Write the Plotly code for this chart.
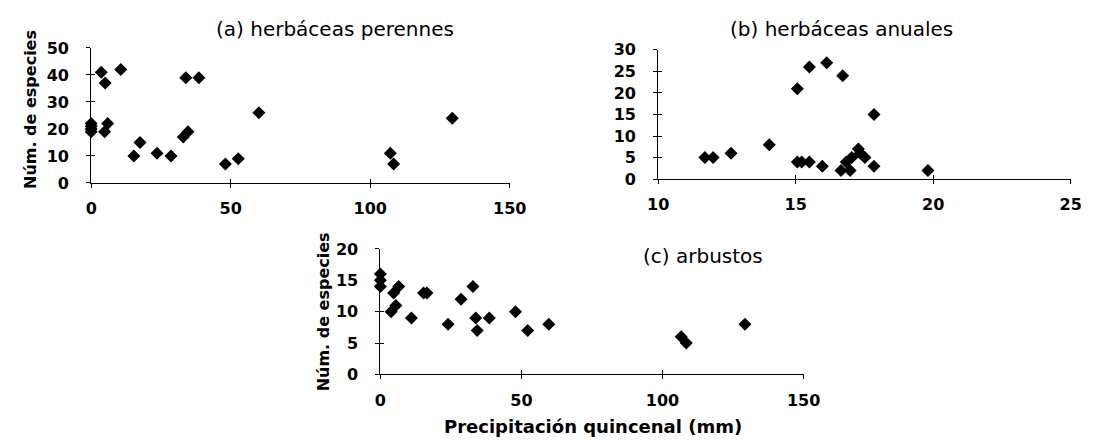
import plotly.graph_objects as go

# ---- data ----
a_x = [0, 0, 0, 0, 3.6, 5.0, 10.6, 4.8, 5.9, 15.3, 17.5, 23.6, 28.6, 33.0, 34.7, 33.9, 38.6, 48.1, 52.7, 60.1, 107.2, 108.4, 129.4]
a_y = [22, 21, 20, 19, 41, 37, 42, 19, 22, 10, 15, 11, 10, 17, 19, 39, 39, 7, 9, 26, 11, 7, 24]

b_x = [11.70, 12.0, 12.65, 14.04, 15.06, 15.5, 16.13, 16.71, 17.85, 15.06, 15.22, 15.5, 15.97, 16.65, 16.98, 16.84, 17.04, 17.28, 17.52, 17.85, 17.35, 19.81]
b_y = [5, 5, 6, 8, 21, 26, 27, 24, 15, 4, 4, 4, 3, 2, 2, 4, 5, 7, 5, 3, 6, 2]

c_x = [0, 0, 0, 3.8, 5.5, 4.7, 6.5, 11.0, 15.3, 16.5, 24.0, 28.6, 32.8, 33.8, 34.3, 38.6, 47.9, 52.2, 59.7, 106.6, 108.4, 129.2]
c_y = [16, 15, 14, 10, 11, 13, 14, 9, 13, 13, 8, 12, 14, 9, 7, 9, 10, 7, 8, 6, 5, 8]

titles = ["(a) herbáceas perennes", "(b) herbáceas anuales", "(c) arbustos"]
y_title = "Núm. de especies"
x_title = "Precipitación quincenal (mm)"

x_ranges = [[0, 150], [10, 25], [0, 150]]
y_ranges = [[0, 50], [0, 30], [0, 20]]
x_dticks = [50, 5, 50]
y_dticks = [10, 5, 5]

# ---- layout geometry (pixels) ----
W, H = 1102, 445
FONT = "DejaVu Sans"
# plot areas: (left, right, bottom, top) in pixels
boxes = [(82.3, 511.7, 181.7, 40.7),
         (664.0, 1087.3, 177.7, 42.7),
         (379.0, 813.3, 381.7, 250.7)]


def xd(l, r):
    return [l / W, r / W]


def yd(b, t):
    return [1 - b / H, 1 - t / H]


fig = go.Figure()
data = [(a_x, a_y), (b_x, b_y), (c_x, c_y)]
layout = {}
for i, ((xs, ys), (l, r, b, t)) in enumerate(zip(data, boxes)):
    n = i + 1
    sx = "" if n == 1 else str(n)
    fig.add_trace(go.Scatter(
        x=xs, y=ys, mode="markers",
        marker=dict(symbol="diamond", size=10, color="black"),
        xaxis="x" + sx, yaxis="y" + sx, cliponaxis=False, showlegend=False,
        hoverinfo="x+y"))
    common = dict(showgrid=False, zeroline=False, showline=True, linecolor="black",
                  linewidth=1, ticks="outside", ticklen=4, tickcolor="black", tickwidth=1,
                  tickfont=dict(family=FONT, size=16, color="black", weight="bold"),
                  fixedrange=True)
    layout["xaxis" + sx] = dict(common, domain=xd(l, r), range=x_ranges[i], dtick=x_dticks[i],
                                tick0=x_ranges[i][0], anchor="y" + sx, ticklabelstandoff=7)
    layout["yaxis" + sx] = dict(common, domain=yd(b, t), range=y_ranges[i], dtick=y_dticks[i],
                                tick0=0, anchor="x" + sx, ticklabelstandoff=14)
    # overlay axes for the inner half of the crossing tick marks
    ox, oy = str(n + 3), str(n + 3)
    fig.add_trace(go.Scatter(x=[], y=[], xaxis="x" + ox, yaxis="y" + oy,
                             showlegend=False, hoverinfo="skip"))
    inner = dict(showgrid=False, zeroline=False, showline=False, ticks="inside", ticklen=4,
                 tickcolor="black", tickwidth=1, showticklabels=False, fixedrange=True)
    layout["xaxis" + ox] = dict(inner, domain=xd(l, r), range=x_ranges[i], dtick=x_dticks[i],
                                tick0=x_ranges[i][0], anchor="y" + oy, overlaying="x" + sx)
    layout["yaxis" + oy] = dict(inner, domain=yd(b, t), range=y_ranges[i], dtick=y_dticks[i],
                                tick0=0, anchor="x" + ox, overlaying="y" + sx)

fig.update_layout(**layout)

ann = [
    dict(text=titles[0], x=332 / W, y=1 - 21 / H, xanchor="center", yanchor="middle",
         font=dict(family=FONT, size=20, color="black")),
    dict(text=titles[1], x=852.5 / W, y=1 - 21 / H, xanchor="center", yanchor="middle",
         font=dict(family=FONT, size=20, color="black")),
    dict(text=titles[2], x=646 / W, y=1 - 258 / H, xanchor="left", yanchor="middle",
         font=dict(family=FONT, size=20, color="black")),
    dict(text=y_title, x=20 / W, y=1 - 105 / H, xanchor="center", yanchor="middle",
         textangle=-90, font=dict(family=FONT, size=16, color="black", weight="bold")),
    dict(text=y_title, x=321 / W, y=1 - 316 / H, xanchor="center", yanchor="middle",
         textangle=-90, font=dict(family=FONT, size=16, color="black", weight="bold")),
    dict(text=x_title, x=597 / W, y=1 - 436 / H, xanchor="center", yanchor="middle",
         font=dict(family=FONT, size=18, color="black", weight="bold")),
]
for a in ann:
    a.update(xref="paper", yref="paper", showarrow=False)

fig.update_layout(
    width=W, height=H, margin=dict(l=0, r=0, t=0, b=0),
    paper_bgcolor="white", plot_bgcolor="white",
    annotations=ann, showlegend=False,
)

fig.write_html("out.html")
